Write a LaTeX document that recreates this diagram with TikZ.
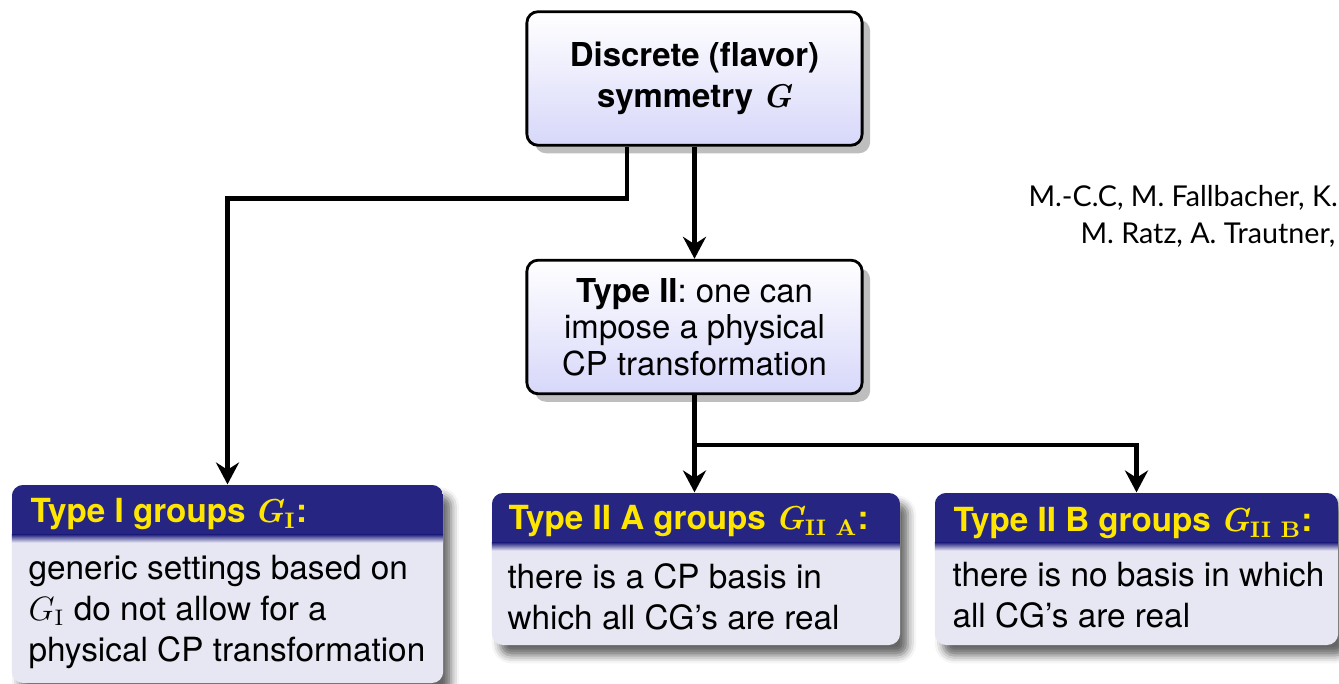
\documentclass[tikz,border=0pt]{standalone}
\usepackage{amsmath}
\usepackage[no-math]{fontspec}
\setmainfont{TeX Gyre Heros}
\newfontfamily\autorfont{Lato}
\newfontfamily\lmfont{Latin Modern Roman}
\newcommand{\fettG}{\text{\lmfont\bfseries\itshape G}}
\usetikzlibrary{arrows.meta,shadows,shadows.blur}
\definecolor{titelblau}{RGB}{38,38,130}
\definecolor{titelgelb}{RGB}{255,230,0}
\definecolor{rumpf}{RGB}{231,231,243}
\definecolor{kastenlila}{RGB}{215,215,250}
\definecolor{schatten}{RGB}{190,190,190}

\begin{document}
\begin{tikzpicture}[>={Stealth[length=7.8pt,width=8.2pt,inset=2.6pt]},
    x=0.0125cm, y=-0.0125cm,
    kasten/.style={draw=black, line width=1pt, rounded corners=4pt,
        top color=white, bottom color=kastenlila,
        minimum width=4.19cm, minimum height=1.67cm, align=center,
        font=\fontsize{11.7}{14.4}\selectfont,
        drop shadow={shadow xshift=0.1cm, shadow yshift=-0.1cm, fill=schatten, opacity=1}},
    gruppe/.style={rounded corners=4pt, fill=rumpf, minimum height=1.9cm,
        blur shadow={shadow xshift=0.1cm, shadow yshift=-0.13cm, shadow blur radius=0.1cm, shadow opacity=60},
        path picture={
            \fill[titelblau, sharp corners] (path picture bounding box.north west) rectangle ([yshift=-0.625cm]path picture bounding box.north east);
            \shade[top color=titelblau, bottom color=rumpf, sharp corners] ([yshift=-0.62cm]path picture bounding box.north west) rectangle ([yshift=-0.72cm]path picture bounding box.north east);
        }},
    kopf/.style={text=titelgelb, inner sep=0pt, anchor=base west,
        font=\fontsize{11.8}{14}\selectfont\bfseries},
    rumpftext/.style={inner sep=0pt, anchor=base west, align=left,
        font=\fontsize{11.85}{14.6}\selectfont},
    pfeil/.style={->, line width=1.6pt},
    autor/.style={anchor=base west, inner sep=0pt, font=\autorfont\fontsize{10.2}{12}\selectfont},
]
\useasboundingbox (0,0) rectangle (1339,684);

% Kaesten oben
\node[kasten] (sym) at (694.5,78.5) {\textbf{Discrete (flavor)}\\\textbf{symmetry $\fettG$}};
\node[kasten, font=\fontsize{11.7}{13}\selectfont] (typeII) at (694.5,327) {\textbf{Type II}: one can\\impose a physical\\CP transformation};

% Gruppen
\node[gruppe, minimum width=5.39cm, minimum height=2.475cm] (typeI) at (227.5,584) {};
\node[gruppe, minimum width=5.1cm] (typeIIA) at (696,569) {};
\node[gruppe, minimum width=5.04cm] (typeIIB) at (1136.5,569) {};

\node[kopf] (typeIkopf) at (30,523) {Type I groups $\fettG_{\mathbf{I}}$:};
\node[rumpftext] (typeItext) at (28,662) {generic settings based on\\$G_{\mathrm{I}}$ do not allow for a\\physical CP transformation};

\node[kopf] (typeIIAkopf) at (508,530) {Type II A groups $\fettG_{\mathbf{II\ A}}$:};
\node[rumpftext] (typeIIAtext) at (507,630) {there is a CP basis in\\which all CG's are real};

\node[kopf] (typeIIBkopf) at (953,532) {Type II B groups $\fettG_{\mathbf{II\ B}}$:};
\node[rumpftext] (typeIIBtext) at (952,628) {there is no basis in which\\all CG's are real};

% Pfeile
\draw[pfeil] ([xshift=-0.844cm]sym.south) -- ++(0,52) -| (typeI.north);
\draw[pfeil] (sym.south) -- (sym.south |- typeII.north);
\draw[pfeil] (typeII.south) -- (typeII.south |- typeIIA.north);
\draw[pfeil] (typeII.south) -- ++(0,50) -| (typeIIB.north);

% Autoren
\node[autor] (autor1) at (1028,207) {M.-C.C, M. Fallbacher, K.};
\node[autor] (autor2) at (1080,244) {M. Ratz, A. Trautner,};

\end{tikzpicture}
\end{document}
